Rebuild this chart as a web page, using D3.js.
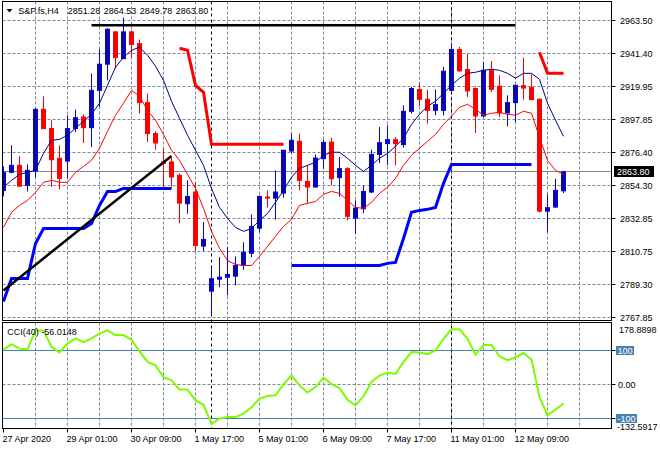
<!DOCTYPE html>
<html><head><meta charset="utf-8">
<script src="https://cdn.jsdelivr.net/npm/d3@7"></script>
<style>
body{margin:0;background:#fff}
svg{display:block}
text{font-family:"Liberation Sans",Arial,sans-serif;font-size:9px;fill:#000}
</style>
</head><body>
<svg id="c" width="660" height="450"></svg>
<script>
// ---------------- DATA ----------------
const symbolName = "S&P.fs,H4";
const indicatorLabel = "CCI(40) -56.0148";

const open = [2851.6,2863.5,2868.1,2854.9,2864.3,2905.0,2892.3,2872.7,2870.9,2892.3,
2899.9,2892.9,2917.5,2934.7,2956.0,2938.4,2956.0,2948.3,2909.4,2889.0,
2870.4,2870.3,2861.5,2842.8,2850.5,2814.9,2785.2,2793.1,2794.4,2795.1,
2802.1,2810.2,2826.7,2847.2,2846.5,2849.8,2877.5,2883.9,2857.5,2853.8,
2872.5,2883.4,2860.0,2865.9,2833.3,2839.5,2850.5,2875.3,2882.4,2885.0,
2881.7,2903.7,2918.0,2911.6,2904.3,2904.3,2917.5,2944.4,2931.2,2918.7,
2900.6,2930.7,2920.2,2902.6,2909.4,2920.6,2919.3,2911.6,2837.9,2840.6,2851.28];

const high = [2867.4,2881.3,2874.2,2868.7,2905.7,2913.6,2897.8,2881.3,2901.1,2904.8,
2901.7,2928.5,2944.4,2958.4,2956.4,2965.5,2957.1,2950.9,2915.4,2890.5,
2879.1,2873.4,2862.8,2858.2,2856.9,2830.7,2800.2,2807.6,2814.2,2808.1,
2817.5,2835.8,2848.3,2851.6,2864.8,2878.3,2889.0,2889.0,2868.1,2875.3,
2885.0,2886.3,2873.6,2866.8,2845.0,2854.9,2878.4,2893.3,2894.5,2886.7,
2907.6,2919.7,2922.3,2918.0,2918.0,2932.9,2947.7,2946.1,2941.7,2919.5,
2936.2,2936.9,2927.4,2914.2,2921.2,2939.1,2928.1,2912.3,2848.9,2859.3,2864.53];

const low = [2847.6,2862.8,2853.9,2850.9,2860.2,2891.8,2853.8,2852.2,2859.5,2890.0,
2882.8,2880.1,2906.5,2924.1,2931.8,2938.0,2939.1,2902.2,2883.4,2878.4,
2853.8,2853.6,2830.0,2836.2,2811.6,2811.6,2769.2,2787.8,2782.4,2789.0,
2799.3,2807.6,2824.1,2840.2,2832.3,2846.8,2875.8,2851.6,2843.2,2853.6,
2865.9,2854.9,2847.6,2831.8,2823.0,2836.6,2849.8,2869.6,2868.1,2868.1,
2879.7,2902.2,2907.0,2895.6,2901.0,2901.0,2916.9,2929.7,2913.1,2889.4,
2900.1,2916.4,2899.9,2893.8,2896.6,2911.4,2910.9,2837.1,2824.1,2839.9,2849.78];

const close = [2863.5,2868.1,2854.4,2864.8,2905.0,2892.3,2871.8,2859.5,2892.3,2899.5,
2892.9,2917.5,2934.7,2957.8,2939.1,2956.0,2947.7,2909.4,2889.0,2882.8,
2869.4,2860.4,2843.2,2847.6,2815.3,2819.3,2793.4,2794.4,2796.2,2802.1,
2810.9,2827.9,2847.6,2846.5,2850.5,2878.0,2884.6,2858.2,2853.8,2872.9,
2883.2,2859.3,2865.9,2834.5,2839.9,2850.9,2875.3,2883.0,2885.0,2882.4,
2903.7,2918.7,2911.6,2904.3,2908.1,2930.1,2944.4,2930.3,2917.1,2900.6,
2930.7,2918.2,2902.6,2909.4,2920.8,2919.0,2911.4,2837.9,2840.2,2851.6,2863.80];

// navy moving average
const maNavy = [2853.6,2858.2,2862.1,2863.5,2864.8,2876.0,2884.6,2885.2,2887.9,2892.5,
2897.1,2901.7,2909.0,2920.8,2932.7,2939.3,2943.9,2945.9,2940.6,2933.4,
2924.1,2910.3,2899.1,2887.9,2878.0,2868.1,2852.9,2840.4,2833.1,2827.2,
2824.6,2826.5,2831.8,2836.4,2843.7,2851.6,2860.2,2866.1,2868.1,2870.1,
2874.7,2876.7,2876.7,2872.7,2868.1,2864.1,2868.1,2872.7,2876.0,2880.6,
2885.9,2895.1,2901.7,2907.0,2910.3,2915.6,2920.8,2925.5,2928.7,2929.4,
2930.7,2931.4,2930.7,2928.7,2925.5,2928.7,2928.7,2924.8,2909.0,2897.8,2887.2];

// red moving average
const maRed = [2827.2,2837.1,2841.7,2845.0,2850.3,2856.9,2858.2,2856.9,2856.9,2863.5,
2867.4,2871.4,2879.3,2890.5,2901.1,2909.0,2917.5,2913.6,2904.3,2897.8,
2888.5,2878.0,2871.4,2862.1,2852.9,2839.7,2824.6,2813.4,2805.4,2802.8,
2802.1,2802.1,2808.1,2814.7,2821.3,2827.9,2832.5,2841.7,2843.0,2844.3,
2849.0,2850.9,2849.6,2845.0,2840.4,2839.7,2843.7,2849.6,2853.6,2859.5,
2868.1,2874.7,2879.3,2883.9,2888.5,2895.1,2900.4,2906.3,2908.3,2905.0,
2901.1,2902.4,2903.0,2901.7,2901.1,2903.7,2902.4,2886.5,2871.4,2864.8,2862.1];

// upper (red) stop line segments: first bar index + values
const upperStop1Start = 22;
const upperStop1 = [2945.2,2943.9,2920.8,2916.2,2881.9,2881.9,2881.9,2881.9,2881.9,2881.9,2881.9,2881.9,2881.9,2881.9];
const upperStop2Start = 67;
const upperStop2 = [2942.6,2928.7,2928.7,2928.7];

// lower (blue) stop line segments
const lowerStop1Start = 0;
const lowerStop1 = [2778.4,2793.6,2793.6,2793.6,2816.6,2826.5,2826.5,2826.5,2826.5,2826.5,2826.5,2829.8,2841.7,2850.9,2850.9,2852.9,2852.9,2852.9,2852.9,2852.9,2852.9,2852.9];
const lowerStop2Start = 36;
const lowerStop2 = [2802.1,2802.1,2802.1,2802.1,2802.1,2802.1,2802.1,2802.1,2802.1,2802.1,2802.1,2802.1,2803.5,2804.1,2819.9,2837.1,2838.4,2839.1,2840.4,2856.2,2868.7,2868.7,2868.7,2868.7,2868.7,2868.7,2868.7,2868.7,2868.7,2868.7,2868.7];

// drawn objects
const trendBars = [0,21];
const trendValues = [2785.7,2874.2];
const resistanceBars = [11,64];
const resistanceValue = 2960.4;
const separatorBars = [26,56];

// CCI(40)
const cci = [102,118,105,103,159,158,110,94,120,135,
124,135,149,159,145,145,131,97,66,56,
21,12,-15,-15,-47,-60,-116,-101,-96,-96,
-86,-67,-42,-34,-32,0,26,-3,-24,-8,
20,1,-11,-45,-62,-35,7,26,34,31,
66,95,94,89,100,134,162,162,134,87,
116,116,82,71,79,92,73,-37,-91,-74,-56.0148];
const cciLevels = [100,-100];
const cciMax = 178.8898, cciMin = -132.5917;

// axes
const priceTicks = [2963.50,2941.40,2919.95,2897.85,2876.40,2854.30,2832.85,2810.75,2789.30,2767.85];
const priceMin = 2767.85, priceMax = 2963.50;
const timeLabelBars = [0,8,16,24,32,40,48,56,64];
const timeLabels = ["27 Apr 2020","29 Apr 01:00","30 Apr 09:00","1 May 17:00","5 May 01:00","6 May 09:00","7 May 17:00","11 May 01:00","12 May 09:00"];
const gridBars = d3.range(4, 76, 4);

// ---------------- DRAWING ----------------
const svg = d3.select("#c");
const L = 2.5, R = 611.5, T = 1.5, B = 320.5, CT = 322.5, CB = 428.5;
const n = close.length;
const x = d3.scaleLinear().domain([0, n - 1]).range([3.5, 563.5]);
const y = d3.scaleLinear().domain([priceMin, priceMax]).range([317.5, 20.5]);
const yc = d3.scaleLinear().domain([cciMin, cciMax]).range([429.5, 323.5]);
const snap = v => Math.round(v) - 0.5;
const fmt2 = d3.format(".2f");

const gridColor = "#778899";
const defs = svg.append("defs");
defs.append("clipPath").attr("id","clipMain").append("rect").attr("x",L).attr("y",T).attr("width",R-L).attr("height",B-T);
defs.append("clipPath").attr("id","clipCci").append("rect").attr("x",L).attr("y",CT).attr("width",R-L).attr("height",CB-CT);

// grid - main
const gGrid = svg.append("g");
gGrid.selectAll("line.hg").data(priceTicks).join("line")
  .attr("x1",L).attr("x2",R).attr("y1",d=>snap(y(d))).attr("y2",d=>snap(y(d)))
  .attr("stroke",gridColor).attr("stroke-dasharray","3,2");
gGrid.selectAll("line.vg").data(gridBars.filter(b=>x(b)<R-1)).join("line")
  .attr("x1",d=>x(d)).attr("x2",d=>x(d)).attr("y1",T).attr("y2",B)
  .attr("stroke",gridColor).attr("stroke-dasharray","3,2");
// grid - cci
const gGrid2 = svg.append("g");
gGrid2.append("line").attr("x1",L).attr("x2",R).attr("y1",Math.floor(yc(0))+0.5).attr("y2",Math.floor(yc(0))+0.5)
  .attr("stroke",gridColor).attr("stroke-dasharray","3,2");
gGrid2.selectAll("line.vg").data(gridBars.filter(b=>x(b)<R-1)).join("line")
  .attr("x1",d=>x(d)).attr("x2",d=>x(d)).attr("y1",CT).attr("y2",CB)
  .attr("stroke",gridColor).attr("stroke-dasharray","3,2");

// separators
svg.append("g").selectAll("line").data(separatorBars).join("line")
  .attr("x1",d=>x(d)).attr("x2",d=>x(d)).attr("y1",T).attr("y2",CB)
  .attr("stroke","#000").attr("stroke-dasharray","3,3");

// current price line
svg.append("line").attr("x1",L).attr("x2",R)
  .attr("y1",snap(y(close[n-1]))).attr("y2",snap(y(close[n-1])))
  .attr("stroke",gridColor);

// candles
const gC = svg.append("g").attr("clip-path","url(#clipMain)");
const bars = d3.range(n);
const up = i => close[i] >= open[i];
gC.selectAll("line.wick").data(bars).join("line")
  .attr("x1",i=>x(i)).attr("x2",i=>x(i))
  .attr("y1",i=>y(high[i])).attr("y2",i=>y(low[i]))
  .attr("stroke",i=>up(i)?"#0000ff":"#ff0000");
gC.selectAll("rect.body").data(bars).join("rect")
  .attr("x",i=>x(i)-2).attr("width",4)
  .attr("y",i=>Math.min(y(open[i]),y(close[i])))
  .attr("height",i=>Math.max(0.5,Math.abs(y(open[i])-y(close[i]))))
  .attr("fill",i=>up(i)?"#0a0a96":"#ff0000")
  .attr("stroke",i=>up(i)?"#0000ff":"#ff0000");

// indicator lines
const gL = svg.append("g").attr("clip-path","url(#clipMain)");
const lineIdx = d3.line().x((d,i)=>x(i)).y(d=>y(d));
const seg = start => d3.line().x((d,i)=>x(start+i)).y(d=>y(d));
gL.append("path").attr("d",lineIdx(maRed)).attr("fill","none").attr("stroke","#ff0000").attr("stroke-width",1);
gL.append("path").attr("d",lineIdx(maNavy)).attr("fill","none").attr("stroke","#000080").attr("stroke-width",1);
gL.append("path").attr("d",seg(upperStop1Start)(upperStop1)).attr("fill","none").attr("stroke","#ff0000").attr("stroke-width",3);
gL.append("path").attr("d",seg(upperStop2Start)(upperStop2)).attr("fill","none").attr("stroke","#ff0000").attr("stroke-width",3);
gL.append("path").attr("d",seg(lowerStop1Start)(lowerStop1)).attr("fill","none").attr("stroke","#0000ff").attr("stroke-width",3);
gL.append("path").attr("d",seg(lowerStop2Start)(lowerStop2)).attr("fill","none").attr("stroke","#0000ff").attr("stroke-width",3);
// trend line & resistance
gL.append("line").attr("x1",x(trendBars[0])).attr("y1",y(trendValues[0]))
  .attr("x2",x(trendBars[1])).attr("y2",y(trendValues[1]))
  .attr("stroke","#000").attr("stroke-width",2.5);
gL.append("line").attr("x1",x(resistanceBars[0])).attr("x2",x(resistanceBars[1]))
  .attr("y1",y(resistanceValue)).attr("y2",y(resistanceValue))
  .attr("stroke","#000").attr("stroke-width",2.5);

// CCI panel
const gI = svg.append("g").attr("clip-path","url(#clipCci)");
gI.selectAll("line.lvl").data(cciLevels).join("line")
  .attr("x1",L).attr("x2",R).attr("y1",d=>Math.floor(yc(d))+0.5).attr("y2",d=>Math.floor(yc(d))+0.5)
  .attr("stroke","#4682b4");
gI.append("path").attr("d",d3.line().x((d,i)=>x(i)).y(d=>yc(d))(cci))
  .attr("fill","none").attr("stroke","#7cfc00").attr("stroke-width",2);

// frames
svg.append("rect").attr("x",L).attr("y",T).attr("width",R-L).attr("height",B-T).attr("fill","none").attr("stroke","#000");
svg.append("rect").attr("x",L).attr("y",CT).attr("width",R-L).attr("height",CB-CT).attr("fill","none").attr("stroke","#000");

// right price axis
const gA = svg.append("g");
gA.selectAll("line.tk").data(priceTicks).join("line")
  .attr("x1",R).attr("x2",R+4).attr("y1",d=>snap(y(d))).attr("y2",d=>snap(y(d))).attr("stroke","#000");
gA.selectAll("text.pl").data(priceTicks).join("text")
  .attr("x",620).attr("y",d=>snap(y(d))+3.8).text(d=>fmt2(d));
// current price box
const cy = snap(y(close[n-1]));
gA.append("rect").attr("x",614).attr("y",cy-5.5).attr("width",40).attr("height",11).attr("fill","#000");
gA.append("text").attr("x",617).attr("y",cy+3.6).style("fill","#fff").text(fmt2(close[n-1]));

// CCI axis
gA.selectAll("line.ctk").data([100,0,-100]).join("line")
  .attr("x1",R).attr("x2",R+4).attr("y1",d=>Math.floor(yc(d))+0.5).attr("y2",d=>Math.floor(yc(d))+0.5).attr("stroke","#000");
gA.append("text").attr("x",619).attr("y",333).text(cciMax.toFixed(4));
gA.append("text").attr("x",618).attr("y",Math.floor(yc(0))+4).text(fmt2(0));
cciLevels.forEach(v=>{
  const ly = Math.floor(yc(v))+0.5;
  const bx = gA.append("rect").attr("x",616).attr("y",ly-4.5).attr("height",9).attr("fill","#4682b4");
  const t = gA.append("text").attr("x",617.5).attr("y",ly+3).style("fill","#fff").text(String(v));
  bx.attr("width", t.node().getComputedTextLength() + 3);
});
gA.append("text").attr("x",617).attr("y",430).text(cciMin.toFixed(4));

// time axis
const gT = svg.append("g");
gT.selectAll("line").data(timeLabelBars).join("line")
  .attr("x1",d=>x(d)).attr("x2",d=>x(d)).attr("y1",CB).attr("y2",CB+4).attr("stroke","#000");
gT.selectAll("text").data(timeLabelBars).join("text")
  .attr("x",d=>x(d)-1).attr("y",441.5).text((d,i)=>timeLabels[i]);

// title
svg.append("path").attr("d","M6.5,9 L12.5,9 L9.5,12.5 Z").attr("fill","#000");
svg.append("text").attr("x",18.3).attr("y",14).text(symbolName);
const titleVals = [open[n-1], high[n-1], low[n-1], close[n-1]];
svg.selectAll("text.tv").data(titleVals).join("text")
  .attr("x",(d,i)=>67.7 + i*36).attr("y",14).text(d=>fmt2(d));
// indicator label
svg.append("text").attr("x",7.3).attr("y",335).text(indicatorLabel);
</script>
</body></html>
